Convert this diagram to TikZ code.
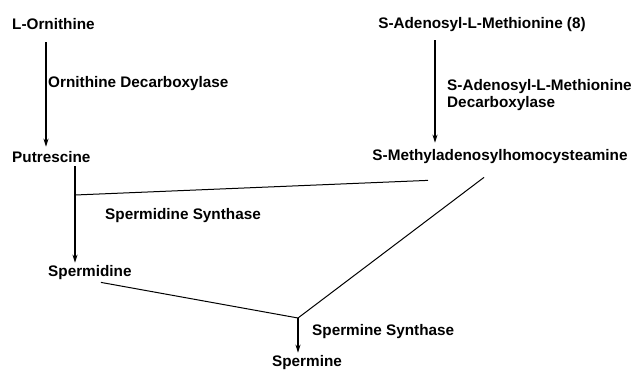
\documentclass[tikz,border=0pt]{standalone}
\usepackage{fontspec}
\setmainfont{Liberation Sans}
\usepackage{tikz}
\usetikzlibrary{arrows.meta, positioning, calc}

\begin{document}
\begin{tikzpicture}[
    x=1pt, y=-1pt,
    cmpd/.style={inner sep=2pt, font=\fontsize{15.3}{17}\selectfont\bfseries},
    enz/.style={inner sep=3pt, align=left, anchor=base west, font=\fontsize{15.3}{17}\selectfont\bfseries},
    arrow/.style={-{Stealth[length=8pt,width=5pt]}, line width=1.5pt},
    link/.style={line width=1pt}
]
\useasboundingbox (0,0) rectangle (633,373);

% Compounds
\node[cmpd, anchor=base west] (orn) at (10,29) {L-Ornithine};
\node[cmpd, anchor=base west] (put) at (10,162) {Putrescine};
\node[cmpd, anchor=base west] (spd) at (46,276) {Spermidine};
\node[cmpd, anchor=base] (spm) at (307,366) {Spermine};
\node[cmpd, anchor=base] (sam) at (482,28) {S-Adenosyl-L-Methionine (8)};
\node[cmpd, anchor=base] (mta) at (500,160) {S-Methyladenosylhomocysteamine};

% Enzymes
\node[enz] (odc) at (45,87) {Ornithine Decarboxylase};
\node[enz] (samdc) at (444,107) {S-Adenosyl-L-Methionine\\Decarboxylase};
\node[enz] (spdsyn) at (102,219) {Spermidine Synthase};
\node[enz] (spmsyn) at (309,335) {Spermine Synthase};

% Junctions
\coordinate (j1) at (75,195);
\coordinate (j2) at (298,318);

% Arrows
\draw[arrow, shorten <=11pt, shorten >=2pt] (orn.south -| 46,0) -- (put.north -| 46,0);
\draw[arrow] ($(sam.south)+(-47,7)$) -- ($(mta.north)+(-65,-4)$);
\draw[arrow, shorten <=2pt] (put.south -| j1) -- (spd.north -| j1);
\draw[arrow] (j2) -- (spm.north -| j2);

% Links to the synthases
\draw[link] (j1) -- ($(mta.south)+(-72,15)$);
\draw[link] ($(spd.south)+(11,1)$) -- (j2);
\draw[link] ($(mta.south)+(-16,12)$) -- (j2);

\end{tikzpicture}
\end{document}
